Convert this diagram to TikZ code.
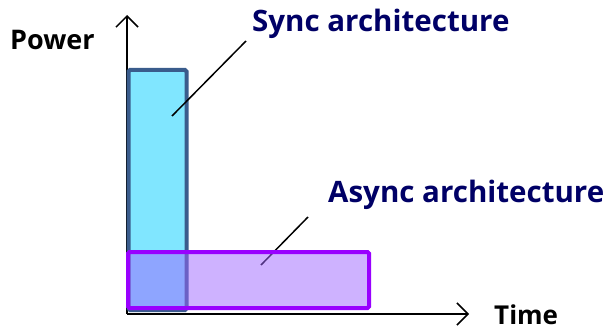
\documentclass[tikz,border=0pt]{standalone}
\usepackage{fontspec}
\setmainfont{Open Sans}
\usetikzlibrary{arrows.meta}
\definecolor{navy}{RGB}{0,0,102}
\definecolor{syncfill}{RGB}{128,230,255}
\definecolor{syncdraw}{RGB}{58,92,140}
\definecolor{asyncfill}{RGB}{157,101,255}
\definecolor{asyncdraw}{RGB}{153,0,255}
\tikzset{
  axis/.style={line width=1.5pt,-{Straight Barb[length=11pt,width=22pt,line width=1.5pt]}},
  lbl/.style={font=\bfseries\fontsize{29.5}{32}\selectfont,inner sep=0pt,anchor=base west},
  leader/.style={line width=1.5pt,black},
}
\begin{document}
\begin{tikzpicture}[x=1pt,y=-1pt]
\useasboundingbox (0,0) rectangle (611,329);
\coordinate (o) at (127,314);
\coordinate (ytip) at (127,15);
\coordinate (xtip) at (469,314);
\draw[axis] (o) -- (ytip);
\draw[axis] (o) -- (xtip);
\node[draw=syncdraw,fill=syncfill,line width=4pt,rounded corners=1.5pt,minimum width=58pt,minimum height=240pt,inner sep=0pt] (sync) at (157.5,190) {};
\coordinate (s1) at (172,116);
\coordinate (s2) at (246,41);
\draw[leader] (s1) -- (s2);
\coordinate (a1) at (261,265);
\coordinate (a2) at (308,217);
\draw[leader] (a1) -- (a2);
\node[draw=asyncdraw,fill=asyncfill,fill opacity=0.5,draw opacity=1,line width=4pt,rounded corners=1.5pt,minimum width=241pt,minimum height=56pt,inner sep=0pt] (async) at (248.5,280) {};
\node[lbl,font=\bfseries\fontsize{27}{30}\selectfont] (power) at (10,50) {Power};
\node[lbl,text=navy] (synct) at (252,32) {Sync architecture};
\node[lbl,text=navy] (asynct) at (328,202) {Async architecture};
\node[lbl,text depth=0pt,font=\bfseries\fontsize{26}{30}\selectfont] (time) at (494,324) {Time};
\end{tikzpicture}
\end{document}
